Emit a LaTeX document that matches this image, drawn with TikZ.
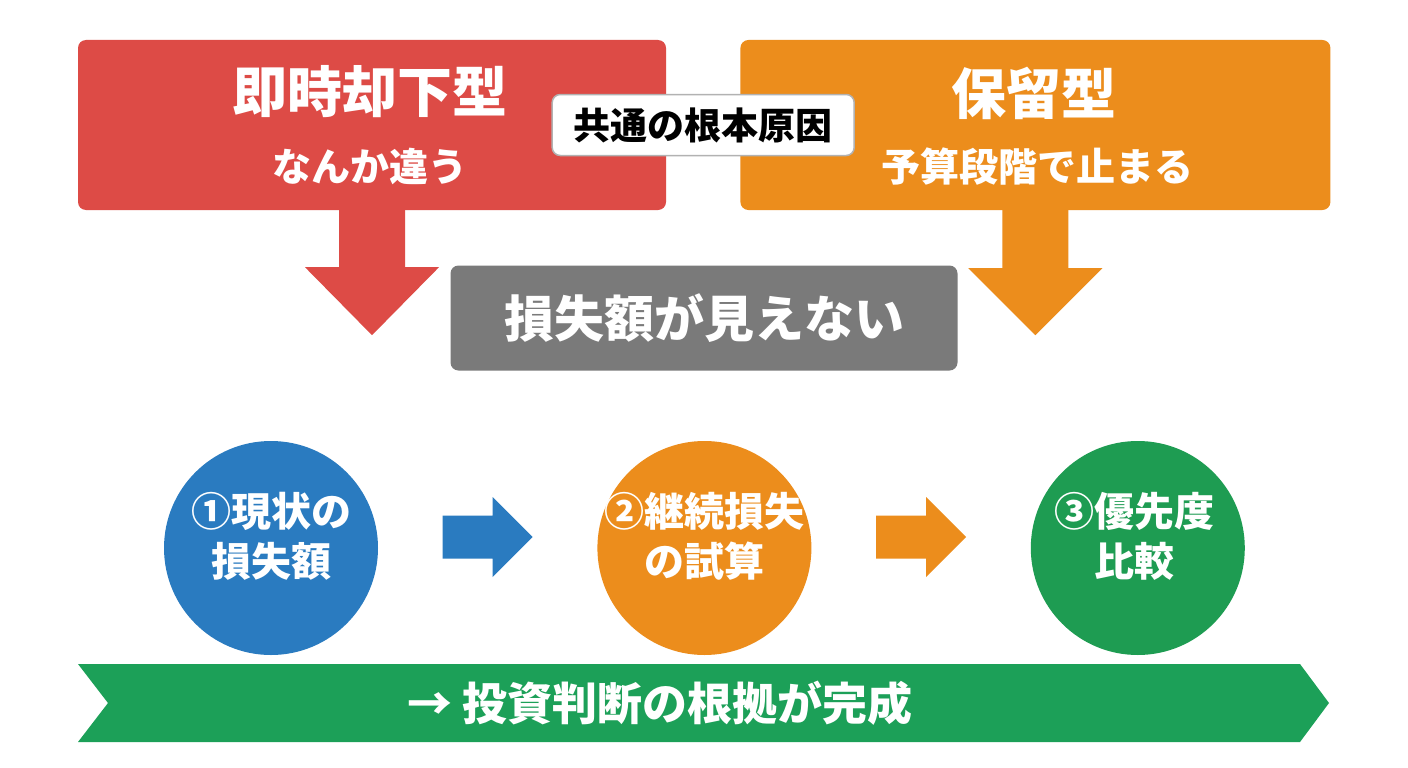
\documentclass[tikz,border=0pt]{standalone}
\usepackage{fontspec}
\setmainfont{Noto Sans CJK JP}
\usepackage{tikz}
\usetikzlibrary{positioning, calc}
\usepackage{xcolor}
\definecolor{redc}{RGB}{221,75,70}
\definecolor{orangec}{RGB}{236,141,28}
\definecolor{grayc}{RGB}{122,122,122}
\definecolor{bluec}{RGB}{42,123,192}
\definecolor{greenc}{RGB}{30,156,82}
\definecolor{bannerc}{RGB}{28,160,88}
\tikzstyle{panel} = [rectangle, rounded corners=8pt, inner sep=0pt, draw=none]
\tikzstyle{title} = [text=white, font=\bfseries\fontsize{55}{60}\selectfont]
\tikzstyle{subtitle} = [text=white, font=\bfseries\fontsize{39}{44}\selectfont]
\tikzstyle{stage} = [circle, minimum size=214pt, inner sep=0pt]
\tikzstyle{stagetext} = [text=white, align=center, font=\bfseries\fontsize{40}{50}\selectfont]

\begin{document}
\begin{tikzpicture}[x=1pt, y=-1pt]
  \useasboundingbox[fill=white] (0,0) rectangle (1408,768);

  % two rejection types
  \node[panel, fill=redc, minimum width=588pt, minimum height=170pt] (quick) at (372,125) {};
  \node[panel, fill=orangec, minimum width=590pt, minimum height=170pt, right=74pt of quick] (hold) {};
  \node[title] (quickT) at (370,92) {即時却下型};
  \node[subtitle] (quickS) at (370,166) {なんか違う};
  \node[title] (holdT) at (1034,93) {保留型};
  \node[subtitle] (holdS) at (1037,167) {予算段階で止まる};

  \node[panel, fill=white, draw=gray!60, line width=1.5pt, minimum width=302pt, minimum height=61pt, font=\bfseries\fontsize{37}{40}\selectfont]
    (cause) at ($(quick.east)!0.5!(hold.west)$) {共通の根本原因};

  % common result
  \node[panel, fill=grayc, minimum width=507pt, minimum height=105pt, text=white, font=\bfseries\fontsize{50}{55}\selectfont]
    (loss) at (704,318) {損失額が見えない};

  \fill[redc] (quick.south) ++(-33,0) -- ++(0,57) -- ++(-34,0) -- ++(67,68) -- ++(67,-68) -- ++(-34,0) -- ++(0,-57) -- cycle;
  \fill[orangec] (hold.south) ++(-33,0) -- ++(0,58) -- ++(-34,0) -- ++(67,67) -- ++(67,-67) -- ++(-34,0) -- ++(0,-58) -- cycle;

  % three steps
  \node[stage, fill=bluec] (s1) at (271,548) {};
  \node[stage, fill=orangec, right=219pt of s1] (s2) {};
  \node[stage, fill=greenc, right=219pt of s2] (s3) {};
  \node[stagetext] (s1t) at ($(s1)+(0,-12)$) {①現状の\\損失額};
  \node[stagetext] (s2t) at ($(s2)+(0,-12)$) {②継続損失\\の試算};
  \node[stagetext] (s3t) at ($(s3)+(-3,-12)$) {③優先度\\比較};

  \coordinate (m1) at ($(s1.east)!0.5!(s2.west)+(0,-11)$);
  \coordinate (m2) at ($(s2.east)!0.5!(s3.west)+(0,-11)$);
  \fill[bluec] (m1) ++(-45,-21.5) -- ++(50,0) -- ++(0,-18.5) -- ++(40,40) -- ++(-40,40) -- ++(0,-18.5) -- ++(-50,0) -- cycle;
  \fill[orangec] (m2) ++(-45,-21.5) -- ++(50,0) -- ++(0,-18.5) -- ++(40,40) -- ++(-40,40) -- ++(0,-18.5) -- ++(-50,0) -- cycle;

  % outcome banner
  \fill[bannerc] (78,664) -- (1300,664) -- (1329,703) -- (1300,742) -- (78,742) -- (108,703) -- cycle;
  \node[text=white, font=\bfseries\fontsize{45}{50}\selectfont] (goal) at (660,703) {→ 投資判断の根拠が完成};
\end{tikzpicture}
\end{document}
